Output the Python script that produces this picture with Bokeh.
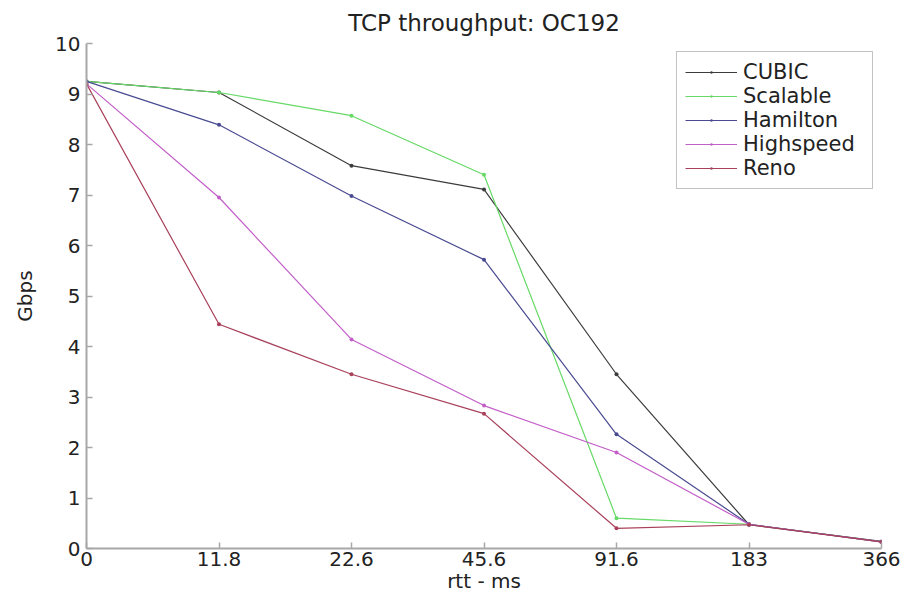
from bokeh.plotting import figure
from bokeh.models import FixedTicker, Range1d, Legend, LegendItem
from bokeh.embed import file_html
from bokeh.resources import INLINE

rtt_labels = ["0", "11.8", "22.6", "45.6", "91.6", "183", "366"]
xs = list(range(len(rtt_labels)))

cubic = [9.25, 9.03, 7.58, 7.11, 3.45, 0.47, 0.14]
scalable = [9.25, 9.03, 8.57, 7.40, 0.60, 0.48, 0.13]
hamilton = [9.25, 8.39, 6.98, 5.72, 2.26, 0.48, 0.13]
highspeed = [9.20, 6.95, 4.14, 2.83, 1.90, 0.48, 0.13]
reno = [9.20, 4.44, 3.45, 2.67, 0.40, 0.47, 0.13]

series_names = ["CUBIC", "Scalable", "Hamilton", "Highspeed", "Reno"]
series_values = [cubic, scalable, hamilton, highspeed, reno]
series_colors = ["#3c3c3c", "#66d966", "#4a4a92", "#c25ec8", "#a8405a"]

FONT = "DejaVu Sans"

p = figure(width=915, height=597, output_backend="svg", toolbar_location=None,
           x_range=Range1d(0, 6), y_range=Range1d(0, 10),
           min_border_left=86, min_border_right=34, min_border_top=43, min_border_bottom=49,
           title="TCP throughput: OC192")
p.outline_line_color = None
p.grid.visible = False
p.background_fill_color = "white"

p.title.align = "center"
p.title.text_font = FONT
p.title.text_font_size = "23px"
p.title.text_font_style = "normal"
p.title.text_color = "#222222"
p.title.standoff = 15

for ax in (p.xaxis[0], p.yaxis[0]):
    ax.axis_line_color = "#a8a8a8"
    ax.axis_line_width = 2
    ax.major_tick_line_color = "#a8a8a8"
    ax.major_tick_line_width = 1.5
    ax.major_tick_in = 6
    ax.major_tick_out = 0
    ax.minor_tick_line_color = None
    ax.major_label_text_font = FONT
    ax.major_label_text_font_size = "20px"
    ax.major_label_text_color = "#222222"
    ax.axis_label_text_font = FONT
    ax.axis_label_text_font_size = "20px"
    ax.axis_label_text_font_style = "normal"
    ax.axis_label_text_color = "#222222"

p.xaxis.ticker = FixedTicker(ticks=xs)
p.xaxis.major_label_overrides = {i: s for i, s in zip(xs, rtt_labels)}
p.xaxis.major_label_standoff = 3
p.xaxis.axis_label = "rtt - ms"
p.xaxis.axis_label_standoff = 0

p.yaxis.ticker = FixedTicker(ticks=list(range(0, 11)))
p.yaxis.major_label_standoff = 6
p.yaxis.axis_label = "Gbps"
p.yaxis.axis_label_standoff = 15

items = []
for name, vals, col in zip(series_names, series_values, series_colors):
    r1 = p.line(xs, vals, line_color=col, line_width=1.2)
    r2 = p.scatter(xs, vals, size=16, marker="dot", fill_color=col, line_color=col)
    items.append(LegendItem(label=name, renderers=[r1, r2]))

legend = Legend(items=items, location="top_right")
legend.margin = 8
legend.padding = 8
legend.spacing = 0
legend.glyph_width = 52
legend.glyph_height = 24
legend.label_height = 24
legend.label_width = 121
legend.label_standoff = 6
legend.label_text_font = FONT
legend.label_text_font_size = "21px"
legend.label_text_color = "#222222"
legend.border_line_color = "#888888"
legend.border_line_width = 1.5
legend.background_fill_alpha = 1.0
p.add_layout(legend)

open("out.html", "w").write(file_html(p, INLINE))
